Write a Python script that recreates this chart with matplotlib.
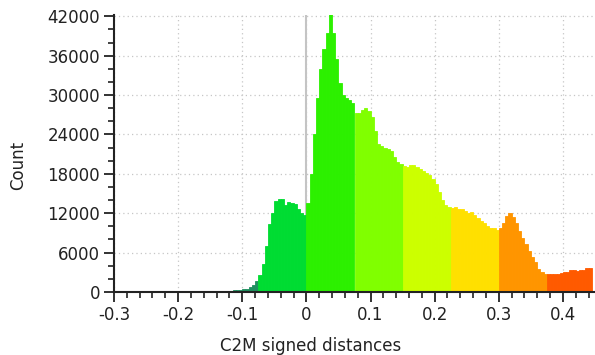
import matplotlib.pyplot as plt
import numpy as np

# histogram of C2M signed distances, bin width 0.005 starting at -0.2
bin_start = -0.2
bin_width = 0.005
counts = [
    30, 40, 40, 50, 60, 70, 80, 90, 100, 110,
    120, 130, 150, 160, 180, 200, 220, 250, 280, 320,
    400, 500, 700, 1100, 1700, 2600, 4300, 7000, 10300, 12000,
    13800, 14200, 14100, 13300, 13700, 13600, 13400, 12600, 12000, 11700,
    13500, 18000, 24000, 29500, 34000, 37000, 39500, 42300, 39500, 35500,
    31800, 30000, 29500, 29300, 28800, 27200, 27300, 27800, 28000, 27500,
    26600, 24500, 22600, 22200, 22000, 21800, 21500, 20500, 19800, 19500,
    19200, 19100, 19400, 19300, 19000, 18800, 18500, 18200, 17800, 17200,
    16500, 15200, 14000, 13300, 12900, 12800, 12900, 12700, 12600, 12300,
    12100, 12200, 11800, 11300, 10800, 10500, 10100, 9700, 9700, 9500,
    9700, 10500, 11600, 12000, 11500, 10500, 9300, 8300, 7300, 6300,
    5400, 4500, 3500, 3000, 2800, 2700, 2700, 2700, 2800, 2900,
    3000, 3100, 3300, 3300, 3200, 3300, 3400, 3600, 3700,
]

# colour classes of the scalar field
class_edges = [-0.075, 0.0, 0.075, 0.15, 0.225, 0.3, 0.375]
class_colors = ['#1f8f5f', '#00dc32', '#2cf000', '#80ff00', '#ccff00',
                '#ffe000', '#ff9500', '#ff5a00']

left_edges = bin_start + bin_width * np.arange(len(counts))
centers = left_edges + bin_width / 2
bar_colors = [class_colors[i] for i in np.digitize(centers, class_edges)]

fig = plt.figure(figsize=(5.95, 3.55), dpi=100)
ax = fig.add_axes([114 / 595, 1 - 292 / 355, 1 - 114 / 595, (292 - 15) / 355])

ax.axvline(0, color='#c4c4c4', lw=1.5, zorder=1)
ax.bar(left_edges, counts, width=bin_width, align='edge', color=bar_colors,
       edgecolor=bar_colors, linewidth=0.6, zorder=2)

ax.set_xlim(-0.3, 0.45)
ax.set_ylim(0, 42200)
ax.set_xticks([-0.3, -0.2, -0.1, 0, 0.1, 0.2, 0.3, 0.4])
ax.set_xticklabels(['-0.3', '-0.2', '-0.1', '0', '0.1', '0.2', '0.3', '0.4'])
ax.set_xticks(np.arange(-0.3, 0.451, 0.02), minor=True)
ax.set_yticks(range(0, 42001, 6000))
ax.set_yticks(range(0, 42001, 2000), minor=True)

ax.grid(True, which='major', linestyle=(0, (1, 2.5)), color='#c6c6c6', lw=0.9, zorder=0)
ax.set_axisbelow(True)
for side in ['top', 'right']:
    ax.spines[side].set_visible(False)
for side in ['left', 'bottom']:
    ax.spines[side].set_linewidth(1.5)
    ax.spines[side].set_color('#222222')
ax.tick_params(which='major', length=7, width=1.3, labelsize=12, colors='#222222', pad=3)
ax.tick_params(which='minor', length=4, width=1.2, colors='#222222')

fig.text(18 / 595, 1 - 165 / 355, 'Count', rotation=90, ha='center', va='center',
         fontsize=12, color='#222222')
fig.text(311 / 595, 1 - 346 / 355, 'C2M signed distances', ha='center', va='center',
         fontsize=12, color='#222222')

fig.savefig('out.png', dpi=100)
